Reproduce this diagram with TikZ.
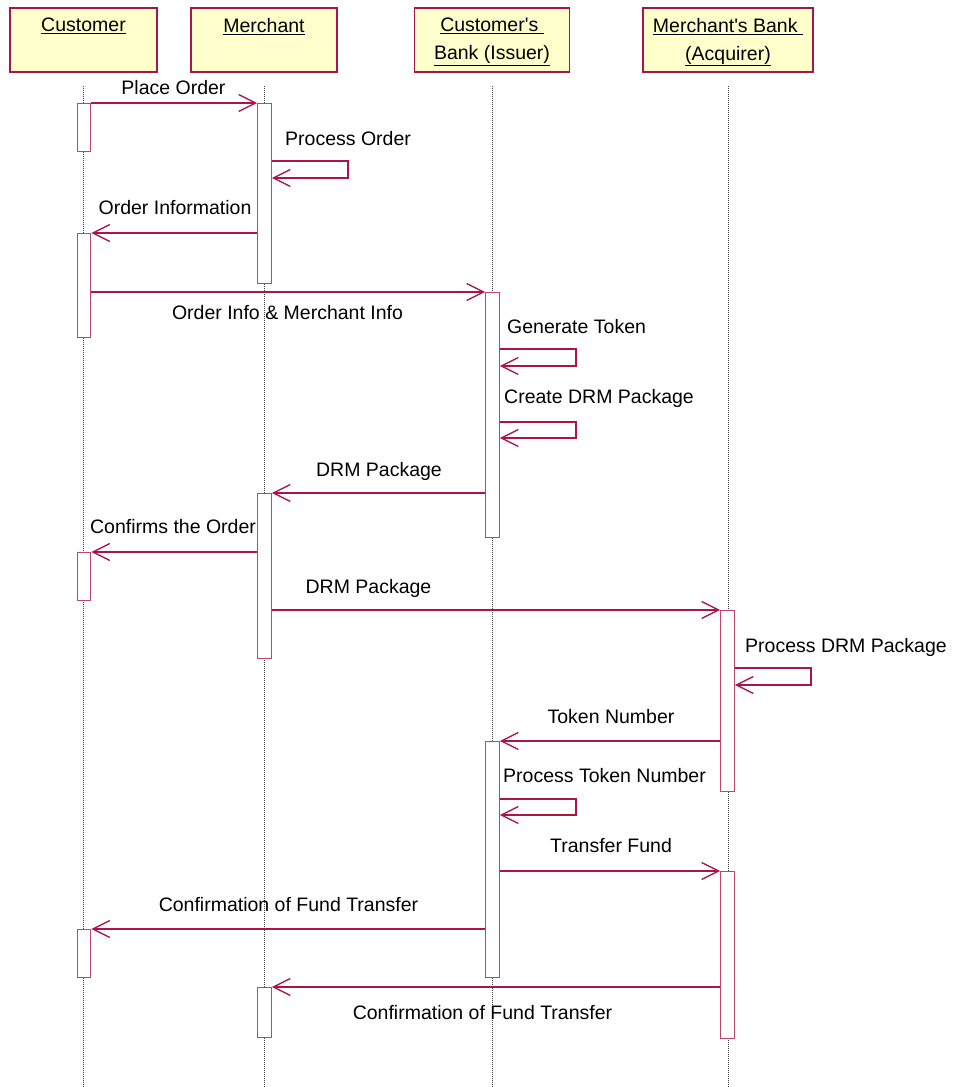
\documentclass[tikz,border=0pt]{standalone}
\usepackage{fontspec}
\setmainfont{Liberation Sans}
\usetikzlibrary{arrows.meta}
\definecolor{umlred}{RGB}{170,20,75}
\definecolor{actred}{RGB}{190,70,110}
\definecolor{headfill}{RGB}{255,255,204}
\tikzstyle{head}=[rectangle,draw=umlred,fill=headfill,line width=1.3pt,minimum height=64pt,inner sep=0pt]
\tikzstyle{headlbl}=[anchor=north,inner sep=0pt,yshift=-10.5pt,align=center]
\tikzstyle{life}=[draw=black!75,line width=0.9pt,dash pattern=on 1pt off 1pt]
\tikzstyle{act}=[rectangle,draw=actred,fill=white,line width=1.3pt,minimum width=13.5pt,inner sep=0pt,anchor=north]
\tikzstyle{msg}=[draw=umlred,line width=1.3pt,-{Straight Barb[length=17pt,width=17pt]}]
\tikzstyle{lbl}=[anchor=base,inner sep=0pt]

\begin{document}
\begin{tikzpicture}[x=1pt,y=-1pt,font=\fontsize{19.5}{28}\selectfont]
\path[use as bounding box,fill=white] (0,0) rectangle (956,1087);
\coordinate (bot) at (0,1087);

\node[head,minimum width=147pt] (cust) at (83.5,40) {};
\node[head,minimum width=146pt] (merc) at (264,40) {};
\node[head,minimum width=155pt] (cbank) at (492,40) {};
\node[head,minimum width=170pt] (mbank) at (728,40) {};
\node[headlbl] (custT) at (cust.north) {\underline{Customer}};
\node[headlbl] (mercT) at (merc.north) {\underline{Merchant}};
\node[headlbl] (cbankT) at (cbank.north) {\underline{Customer\textquotesingle s\ }\\\underline{Bank (Issuer)}};
\node[headlbl] (mbankT) at (mbank.north) {\underline{Merchant\textquotesingle s Bank\ }\\\underline{(Acquirer)}};

\draw[life] ([yshift=-13pt]cust.south) -- (cust.south |- bot);
\draw[life] ([yshift=-13pt]merc.south) -- (merc.south |- bot);
\draw[life] ([yshift=-13pt]cbank.south) -- (cbank.south |- bot);
\draw[life] ([yshift=-13pt]mbank.south) -- (mbank.south |- bot);

\node[act,minimum height=48pt] (c1) at (84,103) {};
\node[act,minimum height=180pt] (m1) at (264.5,103) {};
\node[act,minimum height=104pt] (c2) at (84,233) {};
\node[act,minimum height=245pt] (b1) at (492.5,292) {};
\node[act,minimum height=165pt] (m2) at (264.5,493) {};
\node[act,minimum height=48pt] (c3) at (84,552) {};
\node[act,minimum height=181pt] (k1) at (727.5,610) {};
\node[act,minimum height=236pt] (b2) at (492.5,741) {};
\node[act,minimum height=167pt] (k2) at (727.5,871) {};
\node[act,minimum height=48pt] (c4) at (84,929) {};
\node[act,minimum height=50pt] (m3) at (264.5,987) {};

\draw[msg] (c1.north east) -- (m1.north west);
\draw[msg] ([yshift=-58pt]m1.north east) -- ++(76,0) -- ++(0,17) -- ++(-76,0);
\draw[msg] (m1.west |- c2.north) -- (c2.north east);
\draw[msg] (c2.east |- b1.north) -- (b1.north west);
\draw[msg] ([yshift=-57pt]b1.north east) -- ++(76,0) -- ++(0,17) -- ++(-76,0);
\draw[msg] ([yshift=-130pt]b1.north east) -- ++(76,0) -- ++(0,16) -- ++(-76,0);
\draw[msg] (b1.west |- m2.north) -- (m2.north east);
\draw[msg] (m2.west |- c3.north) -- (c3.north east);
\draw[msg] (m2.east |- k1.north) -- (k1.north west);
\draw[msg] ([yshift=-58pt]k1.north east) -- ++(76,0) -- ++(0,17) -- ++(-76,0);
\draw[msg] (k1.west |- b2.north) -- (b2.north east);
\draw[msg] ([yshift=-58pt]b2.north east) -- ++(76,0) -- ++(0,16) -- ++(-76,0);
\draw[msg] (b2.east |- k2.north) -- (k2.north west);
\draw[msg] (b2.west |- c4.north) -- (c4.north east);
\draw[msg] (k2.west |- m3.north) -- (m3.north east);

\node[lbl] (l1) at (173.5,94) {Place Order};
\node[lbl,anchor=base west] (l2) at (285,145) {Process Order};
\node[lbl] (l3) at (175,214) {Order Information};
\node[lbl] (l4) at (287.5,319) {Order Info \& Merchant Info};
\node[lbl,anchor=base west] (l5) at (507,333) {Generate Token};
\node[lbl,anchor=base west] (l6) at (504,403) {Create DRM Package};
\node[lbl] (l7) at (379,476) {DRM Package};
\node[lbl] (l8) at (173,533) {Confirms the Order};
\node[lbl] (l9) at (368.5,593) {DRM Package};
\node[lbl,anchor=base west] (l10) at (745,652) {Process DRM Package};
\node[lbl] (l11) at (611,723) {Token Number};
\node[lbl,anchor=base west] (l12) at (503,782) {Process Token Number};
\node[lbl] (l13) at (611,852) {Transfer Fund};
\node[lbl] (l14) at (288.5,911) {Confirmation of Fund Transfer};
\node[lbl] (l15) at (482.5,1019) {Confirmation of Fund Transfer};
\end{tikzpicture}
\end{document}
